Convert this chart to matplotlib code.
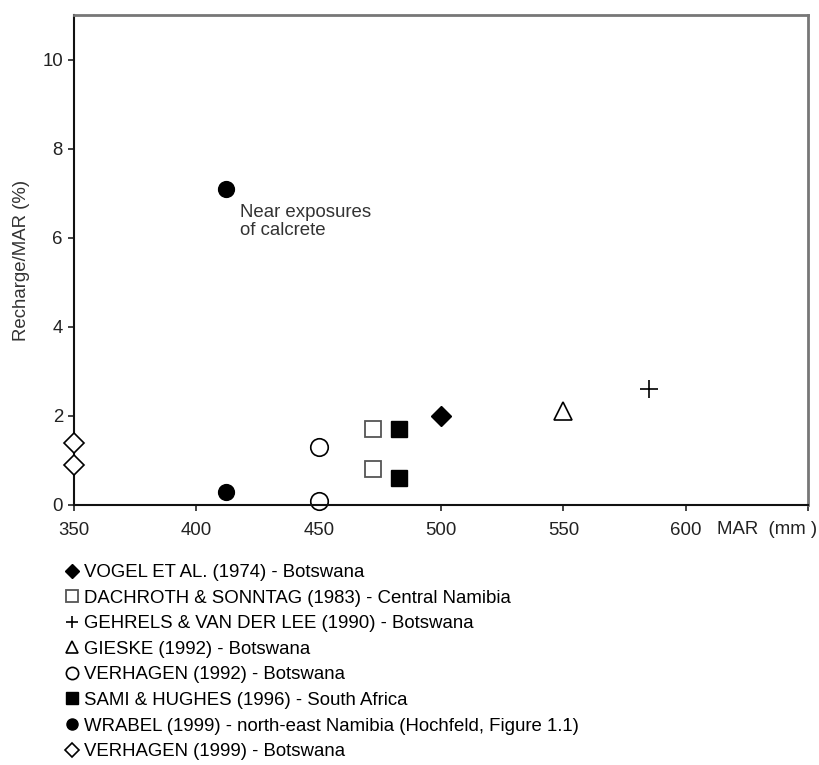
import matplotlib
matplotlib.use("Agg")
import matplotlib.pyplot as plt

plt.rcParams['font.family'] = ['Liberation Sans', 'DejaVu Sans']

# data: MAR (mm) vs Recharge/MAR (%)
vogel_x = [500]
vogel_y = [2.0]
dachroth_x = [472, 472]
dachroth_y = [1.7, 0.8]
gehrels_x = [585]
gehrels_y = [2.6]
gieske_x = [550]
gieske_y = [2.1]
verhagen92_x = [450, 450]
verhagen92_y = [1.3, 0.1]
sami_x = [483, 483]
sami_y = [1.7, 0.6]
wrabel_x = [412, 412]
wrabel_y = [7.1, 0.3]
verhagen99_x = [350, 350]
verhagen99_y = [1.4, 0.9]

labels = [
    'VOGEL ET AL. (1974) - Botswana',
    'DACHROTH & SONNTAG (1983) - Central Namibia',
    'GEHRELS & VAN DER LEE (1990) - Botswana',
    'GIESKE (1992) - Botswana',
    'VERHAGEN (1992) - Botswana',
    'SAMI & HUGHES (1996) - South Africa',
    'WRABEL (1999) - north-east Namibia (Hochfeld, Figure 1.1)',
    'VERHAGEN (1999) - Botswana',
]
xticks = [350, 400, 450, 500, 550, 600, 650]
xticklabels = ['350', '400', '450', '500', '550', '600', '']
yticks = [0, 2, 4, 6, 8, 10]

fs = 13.4
fig = plt.figure(figsize=(8.19, 7.65), dpi=100)
ax = fig.add_axes([0.0904, 0.3399, 0.8962, 0.6405])

ms = 12
h = []
h.append(ax.plot(vogel_x, vogel_y, 'D', ms=ms * 0.85, mfc='black', mec='black', ls='none', clip_on=False)[0])
h.append(ax.plot(dachroth_x, dachroth_y, 's', ms=ms, mfc='white', mec='#555555', mew=1.3, ls='none', clip_on=False)[0])
h.append(ax.plot(gehrels_x, gehrels_y, '+', ms=ms * 1.1, mec='black', mew=1.2, ls='none', clip_on=False)[0])
h.append(ax.plot(gieske_x, gieske_y, '^', ms=ms * 1.1, mfc='white', mec='black', mew=1.2, ls='none', clip_on=False)[0])
h.append(ax.plot(verhagen92_x, verhagen92_y, 'o', ms=ms * 1.05, mfc='white', mec='black', mew=1.2, ls='none', clip_on=False)[0])
h.append(ax.plot(sami_x, sami_y, 's', ms=ms, mfc='black', mec='black', ls='none', clip_on=False)[0])
h.append(ax.plot(wrabel_x, wrabel_y, 'o', ms=ms * 0.95, mfc='black', mec='black', ls='none', clip_on=False)[0])
h.append(ax.plot(verhagen99_x, verhagen99_y, 'D', ms=ms * 0.85, mfc='white', mec='black', mew=1.2, ls='none', clip_on=False, zorder=5)[0])

ax.set_xlim(350, 650)
ax.set_ylim(0, 11)
ax.set_xticks(xticks)
ax.set_xticklabels(xticklabels)
ax.set_yticks(yticks)
ax.tick_params(direction='out', length=4, width=1.2, labelsize=fs, colors='#222222', pad=8)
ax.tick_params(axis='y', pad=4)

for s in ['left', 'bottom']:
    ax.spines[s].set_color('#111111')
    ax.spines[s].set_linewidth(1.5)
for s in ['top', 'right']:
    ax.spines[s].set_color('#777777')
    ax.spines[s].set_linewidth(2)

ax.set_ylabel('Recharge/MAR (%)', fontsize=fs, color='#333333', labelpad=9)
fig.text(717 / 819, 1 - 529 / 765, 'MAR  (mm )', fontsize=fs, color='#222222', va='center', ha='left')

ax.text(418, 6.36, 'Near exposures\nof calcrete', fontsize=fs, color='#333333',
        va='center', ha='left', linespacing=1.06)

leg = fig.legend(h, labels, loc='upper left', bbox_to_anchor=(66 / 819, 1 - 564 / 765),
                 frameon=False, fontsize=fs, handlelength=0.6, handletextpad=0.35,
                 labelspacing=0.46, borderpad=0, borderaxespad=0, markerscale=0.7)

fig.savefig('out.png', dpi=100)
